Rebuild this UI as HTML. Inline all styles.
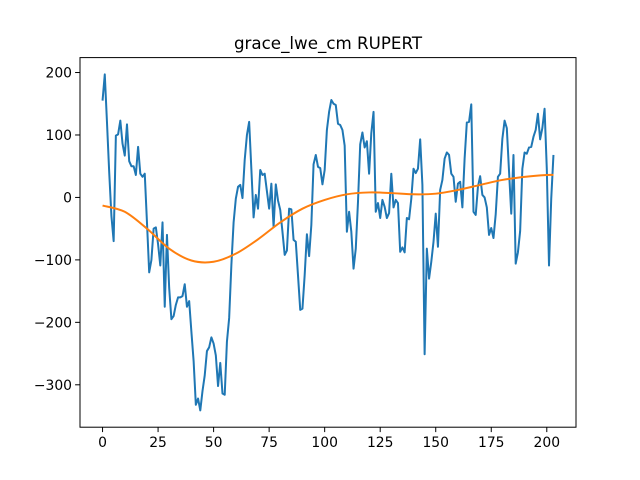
<!DOCTYPE html>
<html><head><meta charset="utf-8"><style>
html,body{margin:0;padding:0;background:#fff;}
svg{display:block;font-family:"DejaVu Sans","Liberation Sans",sans-serif;}
</style></head><body>
<svg id="chart" width="640" height="480" viewBox="0 0 640 480" xmlns="http://www.w3.org/2000/svg">
<rect width="640" height="480" fill="#fff"/>
<text x="328" y="49" font-size="16.7" text-anchor="middle" fill="#000">grace_lwe_cm RUPERT</text>
<g id="marks"></g>
<g id="axes"></g>
</svg>
<script>
const seriesValues = [155,197,120,40,-30,-70,99,101,123,86,67,117,58,50,50,36,81,38,33,38,-40,-120,-100,-50,-48,-75,-109,-40,-175,-60,-145,-195,-190,-172,-160,-160,-158,-139,-175,-166,-215,-262,-332,-322,-341,-310,-285,-246,-240,-224,-234,-253,-302,-265,-314,-316,-231,-193,-108,-40,-2,17,20,-1,60,100,121,45,-32,4,-18,44,36,38,10,-18,22,-47,21,-5,-20,-55,-92,-85,-18,-19,-68,-71,-125,-180,-178,-124,-59,-94,-44,53,68,49,47,21,44,108,137,156,150,148,118,116,108,83,-55,-23,-55,-114,-82,-7,85,104,80,90,38,103,137,-23,-9,-33,-4,-15,-33,-25,38,-16,-4,-9,-87,-80,-88,-33,-35,-2,46,39,46,93,20,-251,-82,-130,-103,-71,-26,-79,12,28,62,72,68,38,33,-7,22,25,-16,62,120,121,149,-23,-28,17,34,4,0,-16,-60,-49,-65,-27,33,38,94,123,111,42,-26,68,-106,-88,-54,46,72,70,80,81,97,108,134,93,111,142,46,-109,-2,68];
const trendIndex = [0,10,20,30,40,50,60,70,80,90,100,110,120,130,140,150,160,170,180,190,200,203];
const trendValues = [-13,-23,-50,-82,-101,-103,-90,-67,-40,-18,-4,5,8,7,5,6,12,20,28,33,36,36];
const xTicks = [0,25,50,75,100,125,150,175,200];
const yTicks = [-300,-200,-100,0,100,200];

const L=80,R=576,T=57.6,B=427.2;
const n=seriesValues.length;
const xmin=-(n-1)*0.05, xmax=(n-1)*1.05;
const ymaxD=Math.max(...seriesValues), yminD=Math.min(...seriesValues);
const yr=ymaxD-yminD, ymin=yminD-yr*0.05, ymax=ymaxD+yr*0.05;
function sx(v){return L+(v-xmin)/(xmax-xmin)*(R-L);}
function sy(v){return B-(v-ymin)/(ymax-ymin)*(B-T);}
const NS="http://www.w3.org/2000/svg";
const marks=document.getElementById('marks'), axes=document.getElementById('axes');

let d=seriesValues.map((v,i)=>(i?'L':'M')+sx(i).toFixed(2)+' '+sy(v).toFixed(2)).join(' ');
const p1=document.createElementNS(NS,'path');
p1.setAttribute('d',d);p1.setAttribute('fill','none');p1.setAttribute('stroke','#1f77b4');p1.setAttribute('stroke-width','2');p1.setAttribute('stroke-linejoin','round');


marks.appendChild(p1);

// Catmull-Rom smooth trend
const pts=trendIndex.map((x,i)=>[sx(x),sy(trendValues[i])]);
let d2='M'+pts[0][0]+' '+pts[0][1];
for(let i=0;i<pts.length-1;i++){
  const p0=pts[Math.max(i-1,0)],a=pts[i],b=pts[i+1],p3=pts[Math.min(i+2,pts.length-1)];
  const c1=[a[0]+(b[0]-p0[0])/6,a[1]+(b[1]-p0[1])/6],c2=[b[0]-(p3[0]-a[0])/6,b[1]-(p3[1]-a[1])/6];
  d2+=` C${c1[0]} ${c1[1]} ${c2[0]} ${c2[1]} ${b[0]} ${b[1]}`;
}
const p2=document.createElementNS(NS,'path');
p2.setAttribute('d',d2);p2.setAttribute('fill','none');p2.setAttribute('stroke','#ff7f0e');p2.setAttribute('stroke-width','2');


marks.appendChild(p2);

const frame=document.createElementNS(NS,'rect');
frame.setAttribute('x',L);frame.setAttribute('y',T);frame.setAttribute('width',R-L);frame.setAttribute('height',B-T);
frame.setAttribute('fill','none');frame.setAttribute('stroke','#000');frame.setAttribute('stroke-width','1');


axes.appendChild(frame);

xTicks.forEach(t=>{
  const x=sx(t);
  const ln=document.createElementNS(NS,'line');
  ln.setAttribute('x1',x);ln.setAttribute('x2',x);ln.setAttribute('y1',B);ln.setAttribute('y2',B+4.9);ln.setAttribute('stroke','#000');
  
  
  axes.appendChild(ln);
  const tx=document.createElementNS(NS,'text');
  tx.setAttribute('x',x);tx.setAttribute('y',B+20);tx.setAttribute('font-size','13.9');tx.setAttribute('text-anchor','middle');
  tx.textContent=t;
  
  
  axes.appendChild(tx);
});
yTicks.forEach(t=>{
  const y=sy(t);
  const ln=document.createElementNS(NS,'line');
  ln.setAttribute('x1',L-4.9);ln.setAttribute('x2',L);ln.setAttribute('y1',y);ln.setAttribute('y2',y);ln.setAttribute('stroke','#000');
  
  
  axes.appendChild(ln);
  const tx=document.createElementNS(NS,'text');
  tx.setAttribute('x',L-8);tx.setAttribute('y',y+5);tx.setAttribute('font-size','13.9');tx.setAttribute('text-anchor','end');
  tx.textContent=t<0?'\u2212'+(-t):t;
  
  
  axes.appendChild(tx);
});
</script>
</body></html>
